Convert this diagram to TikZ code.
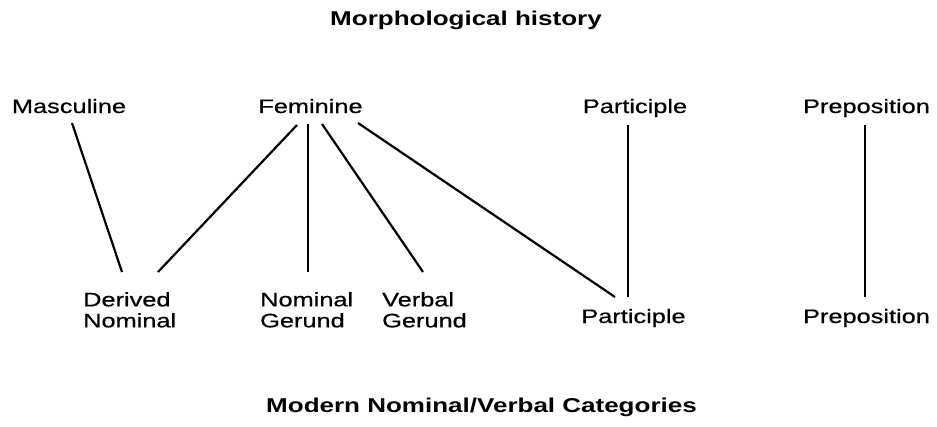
\documentclass[tikz,border=0pt]{standalone}
\usepackage{fontspec}
\setmainfont{Liberation Sans}[FakeStretch=1.3]
\newfontfamily\labfont{Liberation Sans}[FakeStretch=1.3,FakeBold=0.6]
\usetikzlibrary{calc}
\begin{document}
\begin{tikzpicture}[x=1pt,y=-1pt,
  lab/.style={inner sep=0pt,font=\labfont\fontsize{19.5}{21}\selectfont},
  ttl/.style={inner sep=0pt,font=\fontsize{20}{22}\selectfont\bfseries},
  two/.style={lab,align=left,anchor=north west},
  one/.style={lab,anchor=base},
  link/.style={line width=2.2pt}]
\useasboundingbox (0,0) rectangle (937,426);
\fill[white] (0,0) rectangle (937,426);
% titles
\node[ttl,anchor=base] (top) at (466,25) {Morphological history};
\node[ttl,anchor=base] (bot) at (481.5,412) {Modern Nominal/Verbal Categories};
% upper row
\node[one] (masc) at (69,113) {Masculine};
\node[one] (fem) at (310.5,113) {Feminine};
\node[one] (partA) at (635,113) {Participle};
\node[one] (prepA) at (866.5,113) {Preposition};
% lower row
\node[two] (der) at (83,292) {Derived\\Nominal};
\node[two] (nger) at (260,292) {Nominal\\Gerund};
\node[two] (vger) at (382,292) {Verbal\\Gerund};
\node[one] (partB) at (633.5,323) {Participle};
\node[one] (prepB) at (866.5,323) {Preposition};
% connectors
\draw[link] ($(masc.base)+(3,10)$) -- ($(der.north west)+(39,-20)$);
\draw[link] ($(fem.base)+(-13.5,12)$) -- ($(der.north west)+(75,-20)$);
\draw[link] ($(fem.base)+(-2.5,11)$) -- ($(nger.north west)+(48,-20)$);
\draw[link] ($(fem.base)+(11.5,11)$) -- ($(vger.north west)+(41,-20)$);
\draw[link] ($(fem.base)+(47.5,10)$) -- ($(partB.base)+(-18.5,-26)$);
\draw[link] ($(partA.base)+(-7,12)$) -- ($(partB.base)+(-5.5,-26)$);
\draw[link] ($(prepA.base)+(-1.5,12)$) -- ($(prepB.base)+(-1.5,-26)$);
\end{tikzpicture}
\end{document}
